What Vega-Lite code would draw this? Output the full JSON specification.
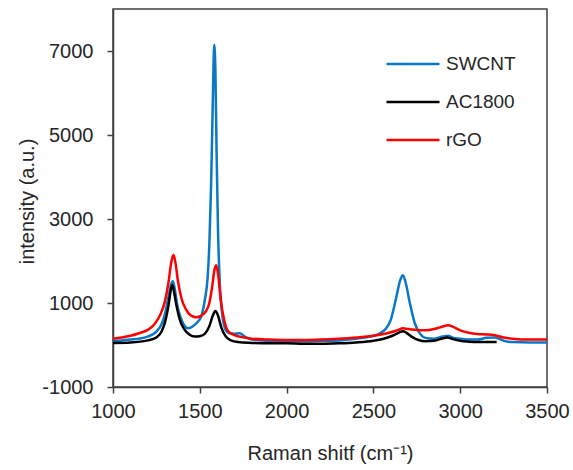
{
  "$schema": "https://vega.github.io/schema/vega-lite/v6.json",
  "width": 434,
  "height": 378,
  "autosize": {"type": "none"},
  "padding": {"left": 113, "top": 9, "right": 26, "bottom": 83},
  "background": "white",
  "config": {
    "font": "Liberation Sans",
    "view": {"stroke": "#404040", "strokeWidth": 1.5},
    "axis": {
      "grid": false,
      "domainColor": "#404040",
      "domainWidth": 1.5,
      "tickColor": "#404040",
      "tickWidth": 1.5,
      "tickSize": 6,
      "labelFlush": false,
      "labelOverlap": false,
      "labelFont": "Liberation Sans",
      "labelFontSize": 20,
      "labelColor": "#262626",
      "titleFont": "Liberation Sans",
      "titleFontSize": 20,
      "titleFontWeight": "normal",
      "titleColor": "#262626"
    }
  },
  "data": {
    "values": [
      {"s": "SWCNT", "x": 1000, "y": 100},
      {"s": "SWCNT", "x": 1050, "y": 110},
      {"s": "SWCNT", "x": 1100, "y": 130},
      {"s": "SWCNT", "x": 1150, "y": 150},
      {"s": "SWCNT", "x": 1200, "y": 200},
      {"s": "SWCNT", "x": 1250, "y": 320},
      {"s": "SWCNT", "x": 1280, "y": 500},
      {"s": "SWCNT", "x": 1300, "y": 750},
      {"s": "SWCNT", "x": 1320, "y": 1150},
      {"s": "SWCNT", "x": 1335, "y": 1450},
      {"s": "SWCNT", "x": 1345, "y": 1520},
      {"s": "SWCNT", "x": 1355, "y": 1350},
      {"s": "SWCNT", "x": 1370, "y": 950},
      {"s": "SWCNT", "x": 1390, "y": 650},
      {"s": "SWCNT", "x": 1410, "y": 470},
      {"s": "SWCNT", "x": 1430, "y": 400},
      {"s": "SWCNT", "x": 1450, "y": 420},
      {"s": "SWCNT", "x": 1470, "y": 480},
      {"s": "SWCNT", "x": 1490, "y": 560},
      {"s": "SWCNT", "x": 1510, "y": 700},
      {"s": "SWCNT", "x": 1530, "y": 1100},
      {"s": "SWCNT", "x": 1545, "y": 1600},
      {"s": "SWCNT", "x": 1555, "y": 2400},
      {"s": "SWCNT", "x": 1565, "y": 3800},
      {"s": "SWCNT", "x": 1575, "y": 5800},
      {"s": "SWCNT", "x": 1583, "y": 7150},
      {"s": "SWCNT", "x": 1590, "y": 6500},
      {"s": "SWCNT", "x": 1597, "y": 4500},
      {"s": "SWCNT", "x": 1605, "y": 2700},
      {"s": "SWCNT", "x": 1615, "y": 1500},
      {"s": "SWCNT", "x": 1630, "y": 700},
      {"s": "SWCNT", "x": 1650, "y": 350},
      {"s": "SWCNT", "x": 1670, "y": 280},
      {"s": "SWCNT", "x": 1700, "y": 270},
      {"s": "SWCNT", "x": 1730, "y": 280},
      {"s": "SWCNT", "x": 1760, "y": 200},
      {"s": "SWCNT", "x": 1800, "y": 130},
      {"s": "SWCNT", "x": 1900, "y": 100},
      {"s": "SWCNT", "x": 2000, "y": 90},
      {"s": "SWCNT", "x": 2100, "y": 90},
      {"s": "SWCNT", "x": 2200, "y": 100},
      {"s": "SWCNT", "x": 2300, "y": 110},
      {"s": "SWCNT", "x": 2400, "y": 150},
      {"s": "SWCNT", "x": 2480, "y": 200},
      {"s": "SWCNT", "x": 2530, "y": 260},
      {"s": "SWCNT", "x": 2570, "y": 380},
      {"s": "SWCNT", "x": 2600, "y": 600},
      {"s": "SWCNT", "x": 2630, "y": 1100},
      {"s": "SWCNT", "x": 2655, "y": 1550},
      {"s": "SWCNT", "x": 2670, "y": 1660},
      {"s": "SWCNT", "x": 2685, "y": 1500},
      {"s": "SWCNT", "x": 2710, "y": 1000},
      {"s": "SWCNT", "x": 2740, "y": 500},
      {"s": "SWCNT", "x": 2770, "y": 260},
      {"s": "SWCNT", "x": 2800, "y": 170},
      {"s": "SWCNT", "x": 2850, "y": 150},
      {"s": "SWCNT", "x": 2900, "y": 200},
      {"s": "SWCNT", "x": 2930, "y": 220},
      {"s": "SWCNT", "x": 2960, "y": 170},
      {"s": "SWCNT", "x": 3000, "y": 150},
      {"s": "SWCNT", "x": 3050, "y": 130},
      {"s": "SWCNT", "x": 3100, "y": 130},
      {"s": "SWCNT", "x": 3150, "y": 170},
      {"s": "SWCNT", "x": 3200, "y": 180},
      {"s": "SWCNT", "x": 3250, "y": 100},
      {"s": "SWCNT", "x": 3300, "y": 70},
      {"s": "SWCNT", "x": 3400, "y": 60},
      {"s": "SWCNT", "x": 3500, "y": 60},
      {"s": "AC1800", "x": 1000, "y": 50},
      {"s": "AC1800", "x": 1100, "y": 60},
      {"s": "AC1800", "x": 1200, "y": 110},
      {"s": "AC1800", "x": 1250, "y": 180},
      {"s": "AC1800", "x": 1280, "y": 320},
      {"s": "AC1800", "x": 1300, "y": 550},
      {"s": "AC1800", "x": 1320, "y": 950},
      {"s": "AC1800", "x": 1335, "y": 1350},
      {"s": "AC1800", "x": 1342, "y": 1430},
      {"s": "AC1800", "x": 1350, "y": 1300},
      {"s": "AC1800", "x": 1365, "y": 950},
      {"s": "AC1800", "x": 1385, "y": 600},
      {"s": "AC1800", "x": 1410, "y": 380},
      {"s": "AC1800", "x": 1440, "y": 250},
      {"s": "AC1800", "x": 1470, "y": 200},
      {"s": "AC1800", "x": 1500, "y": 210},
      {"s": "AC1800", "x": 1530, "y": 270},
      {"s": "AC1800", "x": 1555, "y": 450},
      {"s": "AC1800", "x": 1575, "y": 700},
      {"s": "AC1800", "x": 1590, "y": 810},
      {"s": "AC1800", "x": 1605, "y": 700},
      {"s": "AC1800", "x": 1625, "y": 400},
      {"s": "AC1800", "x": 1650, "y": 200},
      {"s": "AC1800", "x": 1680, "y": 110},
      {"s": "AC1800", "x": 1720, "y": 70},
      {"s": "AC1800", "x": 1800, "y": 50},
      {"s": "AC1800", "x": 1900, "y": 40},
      {"s": "AC1800", "x": 2000, "y": 40},
      {"s": "AC1800", "x": 2100, "y": 30},
      {"s": "AC1800", "x": 2200, "y": 30},
      {"s": "AC1800", "x": 2300, "y": 40},
      {"s": "AC1800", "x": 2400, "y": 60},
      {"s": "AC1800", "x": 2500, "y": 100},
      {"s": "AC1800", "x": 2560, "y": 150},
      {"s": "AC1800", "x": 2610, "y": 220},
      {"s": "AC1800", "x": 2650, "y": 300},
      {"s": "AC1800", "x": 2670, "y": 330},
      {"s": "AC1800", "x": 2690, "y": 290},
      {"s": "AC1800", "x": 2720, "y": 200},
      {"s": "AC1800", "x": 2760, "y": 120},
      {"s": "AC1800", "x": 2800, "y": 90},
      {"s": "AC1800", "x": 2850, "y": 100},
      {"s": "AC1800", "x": 2900, "y": 160},
      {"s": "AC1800", "x": 2925, "y": 180},
      {"s": "AC1800", "x": 2950, "y": 150},
      {"s": "AC1800", "x": 3000, "y": 100},
      {"s": "AC1800", "x": 3050, "y": 80},
      {"s": "AC1800", "x": 3100, "y": 70},
      {"s": "AC1800", "x": 3150, "y": 70},
      {"s": "AC1800", "x": 3210, "y": 70},
      {"s": "rGO", "x": 1000, "y": 150},
      {"s": "rGO", "x": 1050, "y": 180},
      {"s": "rGO", "x": 1100, "y": 220},
      {"s": "rGO", "x": 1150, "y": 280},
      {"s": "rGO", "x": 1200, "y": 360},
      {"s": "rGO", "x": 1240, "y": 500},
      {"s": "rGO", "x": 1270, "y": 700},
      {"s": "rGO", "x": 1300, "y": 1050},
      {"s": "rGO", "x": 1320, "y": 1500},
      {"s": "rGO", "x": 1335, "y": 1950},
      {"s": "rGO", "x": 1348, "y": 2150},
      {"s": "rGO", "x": 1360, "y": 1950},
      {"s": "rGO", "x": 1375, "y": 1500},
      {"s": "rGO", "x": 1395, "y": 1100},
      {"s": "rGO", "x": 1420, "y": 850},
      {"s": "rGO", "x": 1450, "y": 700},
      {"s": "rGO", "x": 1480, "y": 660},
      {"s": "rGO", "x": 1510, "y": 700},
      {"s": "rGO", "x": 1535, "y": 800},
      {"s": "rGO", "x": 1555, "y": 1000},
      {"s": "rGO", "x": 1570, "y": 1350},
      {"s": "rGO", "x": 1585, "y": 1800},
      {"s": "rGO", "x": 1595, "y": 1900},
      {"s": "rGO", "x": 1605, "y": 1700},
      {"s": "rGO", "x": 1620, "y": 1100},
      {"s": "rGO", "x": 1640, "y": 600},
      {"s": "rGO", "x": 1660, "y": 350},
      {"s": "rGO", "x": 1690, "y": 250},
      {"s": "rGO", "x": 1730, "y": 200},
      {"s": "rGO", "x": 1800, "y": 150},
      {"s": "rGO", "x": 1900, "y": 130},
      {"s": "rGO", "x": 2000, "y": 120},
      {"s": "rGO", "x": 2100, "y": 120},
      {"s": "rGO", "x": 2200, "y": 130},
      {"s": "rGO", "x": 2300, "y": 150},
      {"s": "rGO", "x": 2400, "y": 180},
      {"s": "rGO", "x": 2500, "y": 220},
      {"s": "rGO", "x": 2580, "y": 280},
      {"s": "rGO", "x": 2640, "y": 350},
      {"s": "rGO", "x": 2670, "y": 400},
      {"s": "rGO", "x": 2700, "y": 380},
      {"s": "rGO", "x": 2750, "y": 360},
      {"s": "rGO", "x": 2800, "y": 350},
      {"s": "rGO", "x": 2850, "y": 380},
      {"s": "rGO", "x": 2900, "y": 440},
      {"s": "rGO", "x": 2930, "y": 470},
      {"s": "rGO", "x": 2960, "y": 430},
      {"s": "rGO", "x": 3000, "y": 350},
      {"s": "rGO", "x": 3050, "y": 290},
      {"s": "rGO", "x": 3100, "y": 260},
      {"s": "rGO", "x": 3150, "y": 250},
      {"s": "rGO", "x": 3200, "y": 230},
      {"s": "rGO", "x": 3250, "y": 180},
      {"s": "rGO", "x": 3300, "y": 150},
      {"s": "rGO", "x": 3400, "y": 130},
      {"s": "rGO", "x": 3500, "y": 130}
    ]
  },
  "mark": {"type": "line", "strokeWidth": 2.5, "interpolate": "monotone"},
  "encoding": {
    "x": {
      "field": "x",
      "type": "quantitative",
      "scale": {"domain": [1000, 3500], "nice": false},
      "axis": {
        "values": [1000, 1500, 2000, 2500, 3000, 3500],
        "labelExpr": "'' + datum.value",
        "labelPadding": 8,
        "title": "Raman shitf (cm⁻¹)",
        "titlePadding": 22
      }
    },
    "y": {
      "field": "y",
      "type": "quantitative",
      "scale": {"domain": [-1000, 8000], "nice": false, "zero": false},
      "axis": {
        "values": [-1000, 1000, 3000, 5000, 7000],
        "labelExpr": "'' + datum.value",
        "labelPadding": 14,
        "title": "intensity (a.u.)",
        "titleX": -76,
        "titleY": 192
      }
    },
    "color": {
      "field": "s",
      "type": "nominal",
      "sort": ["SWCNT", "AC1800", "rGO"],
      "scale": {"domain": ["SWCNT", "AC1800", "rGO"], "range": ["#0a78c8", "#000000", "#ff0000"]},
      "legend": {
        "title": null,
        "orient": "none",
        "legendX": 272,
        "legendY": 27,
        "symbolType": "stroke",
        "symbolSize": 2809,
        "symbolStrokeWidth": 2.5,
        "labelFont": "Liberation Sans",
        "labelFontSize": 19,
        "labelColor": "#262626",
        "labelOffset": 5,
        "rowPadding": -5
      }
    },
    "order": {"field": "x", "type": "quantitative"}
  }
}
